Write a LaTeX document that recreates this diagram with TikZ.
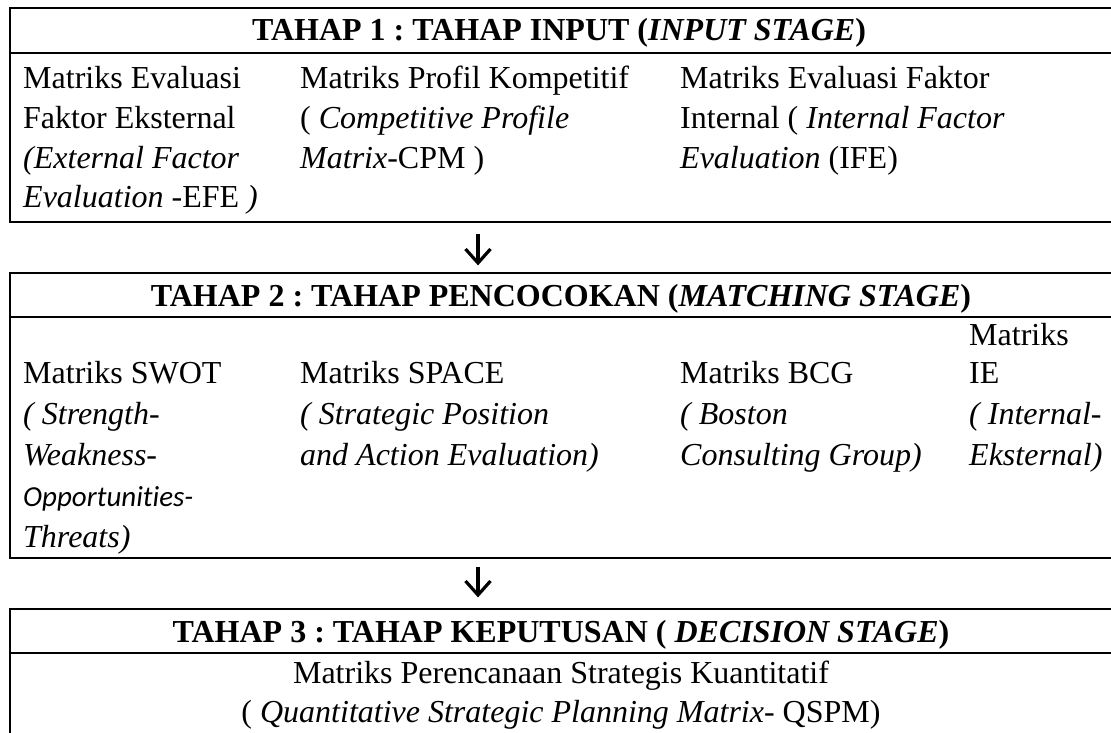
\documentclass[tikz,border=0pt]{standalone}
\usepackage{fontspec}
\setmainfont{Liberation Serif}[ItalicFont={Liberation Serif Italic}, BoldFont={Liberation Serif Bold}, BoldItalicFont={Liberation Serif Bold Italic}]
\newfontfamily\calib{Carlito}[ItalicFont={Carlito Italic}, Ligatures=NoCommon]
\usetikzlibrary{calc}
\frenchspacing
\begin{document}
\begin{tikzpicture}[x=1pt,y=-1pt,
  frame/.style={draw=black, line width=1.8pt, anchor=north west, inner sep=0pt, minimum width=1106pt},
  hdr/.style={anchor=base, inner sep=0pt, font=\fontsize{32}{32}\selectfont\bfseries},
  txt/.style={anchor=base west, inner sep=0pt, font=\fontsize{32}{32}\selectfont},
  ctr/.style={anchor=base, inner sep=0pt, font=\fontsize{32}{32}\selectfont},
  glyph/.style={line width=3.2pt, line cap=butt, line join=miter}
]
\useasboundingbox (0,0) rectangle (1111,733);
\fill[white] (0,0) rectangle (1111,733);

% frames
\node[frame, minimum height=45pt] (h1) at (9,7) {};
\node[frame, minimum height=169pt] (b1) at (9,52) {};
\node[frame, minimum height=44pt] (h2) at (9,272) {};
\node[frame, minimum height=241pt] (b2) at (9,316) {};
\node[frame, minimum height=44pt] (h3) at (9,608) {};
\node[frame, minimum height=100pt] (b3) at (9,652) {};

% headers
\node[hdr] (t1) at (559,41) {TAHAP 1 : TAHAP INPUT (\textit{INPUT STAGE})};
\node[hdr] (t2) at (561,306) {TAHAP 2 : TAHAP PENCOCOKAN (\textit{MATCHING STAGE})};
\node[hdr] (t3) at (561,642) {TAHAP 3 : TAHAP KEPUTUSAN ( \textit{DECISION STAGE})};

% stage 1
\node[txt] (c1a) at (23,89) {Matriks Evaluasi};
\node[txt] (c1b) at (23,128.5) {Faktor Eksternal};
\node[txt] (c1c) at (23,168) {\textit{(External Factor}};
\node[txt] (c1d) at (23,207.5) {\textit{Evaluation} -EFE \textit{)}};
\node[txt] (c2a) at (300,89) {Matriks Profil Kompetitif};
\node[txt] (c2b) at (300,128.5) {( \textit{Competitive Profile}};
\node[txt] (c2c) at (300,168) {\textit{Matrix}-CPM )};
\node[txt] (c3a) at (680,89) {Matriks Evaluasi Faktor};
\node[txt] (c3b) at (680,128.5) {Internal ( \textit{Internal Factor}};
\node[txt] (c3c) at (680,168) {\textit{Evaluation} (IFE)};

% stage 2
\node[txt] (d1a) at (23,383) {Matriks SWOT};
\node[txt] (d1b) at (23,424) {\textit{( Strength-}};
\node[txt] (d1c) at (23,465) {\textit{Weakness-}};
\node[txt, font=\fontsize{29}{29}\selectfont] (d1d) at (23,506) {\calib\itshape Opportunities-};
\node[txt] (d1e) at (23,547) {\textit{Threats)}};
\node[txt] (d2a) at (300,383) {Matriks SPACE};
\node[txt] (d2b) at (300,424) {\textit{( Strategic Position}};
\node[txt] (d2c) at (300,465) {\textit{and Action Evaluation)}};
\node[txt] (d3a) at (680,383) {Matriks BCG};
\node[txt] (d3b) at (680,424) {\textit{( Boston}};
\node[txt] (d3c) at (680,465) {\textit{Consulting Group)}};
\node[txt] (d4a) at (969,345) {Matriks};
\node[txt] (d4b) at (969,383) {IE};
\node[txt] (d4c) at (969,424) {\textit{( Internal-}};
\node[txt] (d4d) at (969,465) {\textit{Eksternal)}};

% stage 3
\node[ctr] (e1) at (561,683) {Matriks Perencanaan Strategis Kuantitatif};
\node[ctr] (e2) at (561,722) {( \textit{Quantitative Strategic Planning Matrix}- QSPM)};

% arrows
\coordinate (a1s) at (478,234);
\coordinate (a1e) at (478,263);
\coordinate (a2s) at (478,567);
\coordinate (a2e) at (478,595);
\draw[glyph] (a1s) -- (a1e);
\draw[glyph] ($(a1e)+(-12.5,-14)$) -- (a1e) -- ($(a1e)+(12.5,-14)$);
\draw[glyph] (a2s) -- (a2e);
\draw[glyph] ($(a2e)+(-12.5,-14)$) -- (a2e) -- ($(a2e)+(12.5,-14)$);
\end{tikzpicture}
\end{document}
